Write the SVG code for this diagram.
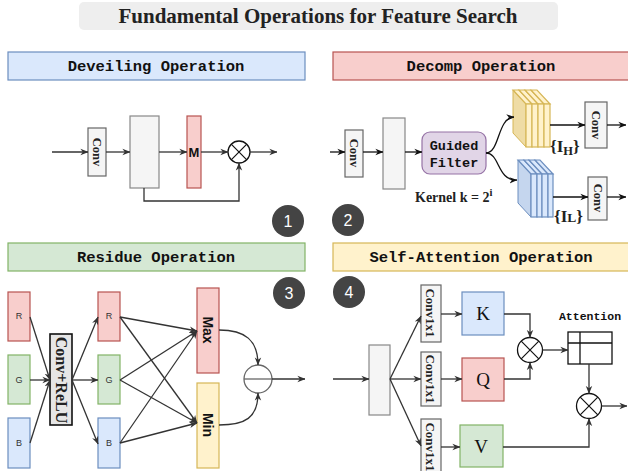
<svg xmlns="http://www.w3.org/2000/svg" width="628" height="471" viewBox="0 0 628 471">
<defs>
<style>
.hdr{font-family:"Liberation Mono",monospace;font-weight:bold;font-size:15.5px;fill:#111;text-anchor:middle}
.gray{fill:#f5f5f5;stroke:#888;stroke-width:1.2}
.conv{fill:#f5f5f5;stroke:#666;stroke-width:1.2}
.ser{font-family:"Liberation Serif",serif;font-weight:bold;fill:#222}
.sans{font-family:"Liberation Sans",Arial,sans-serif}
.red{fill:#f8cecc;stroke:#b85450;stroke-width:1.2}
.grn{fill:#d5e8d4;stroke:#82b366;stroke-width:1.2}
.blu{fill:#dae8fc;stroke:#6c8ebf;stroke-width:1.2}
.yel{fill:#fff2cc;stroke:#d6b656;stroke-width:1.2}
.ln{fill:none;stroke:#333;stroke-width:1.3}
.lnk{fill:none;stroke:#111;stroke-width:1.3}
.num{fill:#444}
.numt{font-family:"Liberation Sans",Arial,sans-serif;font-size:16px;fill:#fff;text-anchor:middle}
.op{fill:#fff;stroke:#111;stroke-width:1.3}
</style>
<marker id="ar" viewBox="0 0 10 10" refX="9.5" refY="5" markerWidth="8" markerHeight="8" markerUnits="userSpaceOnUse" orient="auto">
<path d="M0,1 L10,5 L0,9 L3,5 z" fill="#333"/>
</marker>
<marker id="ark" viewBox="0 0 10 10" refX="9.5" refY="5" markerWidth="8" markerHeight="8" markerUnits="userSpaceOnUse" orient="auto">
<path d="M0,1 L10,5 L0,9 L3,5 z" fill="#111"/>
</marker>
</defs>
<rect width="628" height="471" fill="#fff"/>

<g id="title">
<rect x="79" y="2" width="479" height="28" rx="5" fill="#eeeeee"/>
<text x="318" y="23" class="ser" font-size="21" text-anchor="middle" fill="#111">Fundamental Operations for Feature Search</text>
</g>

<g id="hdr-deveiling"><rect x="8" y="52" width="297" height="28" fill="#dae8fc" stroke="#6c8ebf" stroke-width="1.2"/><text x="156" y="71" class="hdr">Deveiling Operation</text></g>
<g id="hdr-decomp"><rect x="333" y="52" width="300" height="28" fill="#f8cecc" stroke="#b85450" stroke-width="1.2"/><text x="481" y="71" class="hdr">Decomp Operation</text></g>
<g id="hdr-residue"><rect x="8" y="243" width="297" height="28" fill="#d5e8d4" stroke="#82b366" stroke-width="1.2"/><text x="156" y="262" class="hdr">Residue Operation</text></g>
<g id="hdr-selfatt"><rect x="333" y="243" width="300" height="28" fill="#fff2cc" stroke="#d6b656" stroke-width="1.2"/><text x="481" y="262" class="hdr">Self-Attention Operation</text></g>

<g id="badges">
<circle cx="288" cy="221" r="16" class="num"/><text x="288" y="227" class="numt">1</text>
<circle cx="348" cy="220" r="16" class="num"/><text x="348" y="226" class="numt">2</text>
<circle cx="289" cy="293" r="16" class="num"/><text x="289" y="299" class="numt">3</text>
<circle cx="349" cy="292" r="16" class="num"/><text x="349" y="298" class="numt">4</text>
</g>

<!-- Deveiling -->
<g id="dv-conv"><rect x="88" y="128" width="18" height="48" class="conv"/><text transform="translate(93,152) rotate(90)" class="ser" font-size="12.5" text-anchor="middle">Conv</text></g>
<g id="dv-feat"><rect x="130" y="116" width="29" height="72" class="gray"/></g>
<g id="dv-m"><rect x="187" y="116" width="14" height="72" class="red"/><text x="194" y="157" class="sans" font-weight="bold" font-size="13" text-anchor="middle" fill="#111">M</text></g>
<g id="dv-mul"><circle cx="239" cy="152" r="11" class="op"/><path d="M231.2,144.2 L246.8,159.8 M246.8,144.2 L231.2,159.8" stroke="#111" stroke-width="1.2"/></g>

<!-- Decomp -->
<g id="dc-conv"><rect x="345" y="130" width="18" height="47" class="conv"/><text transform="translate(350,153) rotate(90)" class="ser" font-size="12.5" text-anchor="middle">Conv</text></g>
<g id="dc-feat"><rect x="383" y="118" width="22" height="71" class="gray"/></g>
<g id="dc-gf"><rect x="422" y="132" width="64" height="42" rx="8" fill="#e1d5e7" stroke="#9673a6" stroke-width="1.2"/>
<text x="454" y="150" font-family="Liberation Mono,monospace" font-weight="bold" font-size="13.5" text-anchor="middle" fill="#111">Guided</text>
<text x="454" y="167" font-family="Liberation Mono,monospace" font-weight="bold" font-size="13.5" text-anchor="middle" fill="#111">Filter</text></g>
<g id="dc-kernel"><text x="415" y="202" class="ser" font-size="14" fill="#111">Kernel k = 2<tspan dy="-6" font-size="10.5">i</tspan></text></g>
<g id="dc-ih">
<polygon points="526,104 513,90 513,133 526,147" fill="#efdca5" stroke="#d6b656" stroke-width="1"/>
<polygon points="526,104 513,90 519,90 532,104" class="yel" stroke-width="1"/>
<polygon points="532,104 519,90 525,90 538,104" class="yel" stroke-width="1"/>
<polygon points="538,104 525,90 531,90 544,104" class="yel" stroke-width="1"/>
<polygon points="544,104 531,90 537,90 550,104" class="yel" stroke-width="1"/>
<rect x="526" y="104" width="6" height="43" class="yel" stroke-width="1"/>
<rect x="532" y="104" width="6" height="43" class="yel" stroke-width="1"/>
<rect x="538" y="104" width="6" height="43" class="yel" stroke-width="1"/>
<rect x="544" y="104" width="6" height="43" class="yel" stroke-width="1"/>
<text x="550" y="152" class="ser" font-size="17" fill="#111">{I<tspan dy="3" font-size="12.5">H</tspan><tspan dy="-3">}</tspan></text>
</g>
<g id="dc-il">
<polygon points="531,174 518,160 518,203 531,217" fill="#c5d6ee" stroke="#6c8ebf" stroke-width="1"/>
<polygon points="531,174 518,160 524,160 537,174" class="blu" stroke-width="1"/>
<polygon points="537,174 524,160 529,160 542,174" class="blu" stroke-width="1"/>
<polygon points="542,174 529,160 535,160 548,174" class="blu" stroke-width="1"/>
<polygon points="548,174 535,160 540,160 553,174" class="blu" stroke-width="1"/>
<rect x="531" y="174" width="6" height="43" class="blu" stroke-width="1"/>
<rect x="537" y="174" width="5" height="43" class="blu" stroke-width="1"/>
<rect x="542" y="174" width="6" height="43" class="blu" stroke-width="1"/>
<rect x="548" y="174" width="5" height="43" class="blu" stroke-width="1"/>
<text x="554" y="222" class="ser" font-size="17" fill="#111">{I<tspan font-size="13.5">L</tspan>}</text>
</g>
<g id="dc-convh"><rect x="585" y="102" width="22" height="46" class="conv"/><text transform="translate(592,125) rotate(90)" class="ser" font-size="12.5" text-anchor="middle">Conv</text></g>
<g id="dc-convl"><rect x="588" y="177" width="19" height="43" class="conv"/><text transform="translate(594,198) rotate(90)" class="ser" font-size="12.5" text-anchor="middle">Conv</text></g>

<!-- Residue -->
<g id="rs-r1"><rect x="8" y="292" width="22" height="49" class="red"/><text x="19" y="319" class="sans" font-size="9" text-anchor="middle" fill="#333">R</text></g>
<g id="rs-g1"><rect x="8" y="355" width="22" height="49" class="grn"/><text x="19" y="383" class="sans" font-size="9" text-anchor="middle" fill="#333">G</text></g>
<g id="rs-b1"><rect x="8" y="418" width="22" height="50" class="blu"/><text x="19" y="446" class="sans" font-size="9" text-anchor="middle" fill="#333">B</text></g>
<g id="rs-conv"><rect x="50" y="334" width="22" height="91" fill="#e6e6e6" stroke="#111" stroke-width="1.6"/><text transform="translate(56,380) rotate(90)" class="ser" font-size="16" text-anchor="middle" fill="#111">Conv+ReLU</text></g>
<g id="rs-r2"><rect x="98" y="292" width="22" height="49" class="red"/><text x="109" y="319" class="sans" font-size="9" text-anchor="middle" fill="#333">R</text></g>
<g id="rs-g2"><rect x="98" y="355" width="22" height="49" class="grn"/><text x="109" y="383" class="sans" font-size="9" text-anchor="middle" fill="#333">G</text></g>
<g id="rs-b2"><rect x="98" y="418" width="22" height="50" class="blu"/><text x="109" y="446" class="sans" font-size="9" text-anchor="middle" fill="#333">B</text></g>
<g id="rs-max"><rect x="197" y="288" width="22" height="85" class="red"/><text transform="translate(203,330) rotate(90)" class="sans" font-weight="bold" font-size="14" text-anchor="middle" fill="#111">Max</text></g>
<g id="rs-min"><rect x="197" y="383" width="22" height="85" class="yel"/><text transform="translate(203,425) rotate(90)" class="sans" font-weight="bold" font-size="14" text-anchor="middle" fill="#111">Min</text></g>
<g id="rs-sub"><circle cx="258" cy="379" r="14" fill="#fff" stroke="#666" stroke-width="1.3"/><line x1="244" y1="379" x2="272" y2="379" stroke="#666" stroke-width="1.3"/></g>

<!-- Self-attention -->
<g id="sa-feat"><rect x="369" y="345" width="21" height="70" class="gray"/></g>
<g id="sa-ck"><rect x="421" y="285" width="20" height="57" class="conv"/><text transform="translate(426,313) rotate(90)" class="ser" font-size="13" text-anchor="middle">Conv1x1</text></g>
<g id="sa-cq"><rect x="421" y="352" width="20" height="54" class="conv"/><text transform="translate(426,379) rotate(90)" class="ser" font-size="13" text-anchor="middle">Conv1x1</text></g>
<g id="sa-cv"><rect x="421" y="419" width="20" height="58" class="conv"/><text transform="translate(426,447) rotate(90)" class="ser" font-size="13" text-anchor="middle">Conv1x1</text></g>
<g id="sa-k"><rect x="462" y="292" width="42" height="43" class="blu"/><text x="483" y="320" font-family="Liberation Serif,serif" font-size="19" text-anchor="middle" fill="#111">K</text></g>
<g id="sa-q"><rect x="462" y="358" width="42" height="43" class="red"/><text x="483" y="386" font-family="Liberation Serif,serif" font-size="19" text-anchor="middle" fill="#111">Q</text></g>
<g id="sa-v"><rect x="460" y="425" width="43" height="42" class="grn"/><text x="481" y="453" font-family="Liberation Serif,serif" font-size="19" text-anchor="middle" fill="#111">V</text></g>
<g id="sa-mul1"><circle cx="530" cy="350" r="12.5" class="op"/><path d="M521.2,341.2 L538.8,358.8 M538.8,341.2 L521.2,358.8" stroke="#111" stroke-width="1.2"/></g>
<g id="sa-att"><text x="590" y="320" font-family="Liberation Mono,monospace" font-weight="bold" font-size="11.5" text-anchor="middle" fill="#111">Attention</text>
<rect x="568" y="332" width="44" height="32" fill="#fff" stroke="#111" stroke-width="1.3"/><line x1="568" y1="343" x2="612" y2="343" stroke="#111" stroke-width="1.3"/><line x1="580" y1="332" x2="580" y2="364" stroke="#111" stroke-width="1.3"/></g>
<g id="sa-mul2"><circle cx="589" cy="406" r="12.5" class="op"/><path d="M580.2,397.2 L597.8,414.8 M597.8,397.2 L580.2,414.8" stroke="#111" stroke-width="1.2"/></g>

<g id="connectors">
<!-- deveiling -->
<path class="ln" marker-end="url(#ar)" d="M52,152 L88,152"/>
<path class="ln" marker-end="url(#ar)" d="M106,152 L130,152"/>
<path class="ln" marker-end="url(#ar)" d="M159,152 L187,152"/>
<path class="ln" marker-end="url(#ar)" d="M201,152 L228,152"/>
<path class="ln" marker-end="url(#ar)" d="M250,152 L277,152"/>
<path class="ln" marker-end="url(#ar)" d="M144,188 L144,201 L239,201 L239,163"/>
<!-- decomp -->
<path class="lnk" marker-end="url(#ark)" d="M330,152 L345,152"/>
<path class="lnk" marker-end="url(#ark)" d="M363,152 L383,152"/>
<path class="lnk" marker-end="url(#ark)" d="M405,152 L422,152"/>
<path class="lnk" marker-end="url(#ark)" d="M486,153 C500,153 497,118 514,117"/>
<path class="lnk" marker-end="url(#ark)" d="M486,153 C500,153 497,181 517,180"/>
<path class="lnk" marker-end="url(#ark)" d="M550,125 L585,125"/>
<path class="lnk" marker-end="url(#ark)" d="M607,125 L626,125"/>
<path class="lnk" marker-end="url(#ark)" d="M553,197 L588,197"/>
<path class="lnk" marker-end="url(#ark)" d="M607,197 L626,197"/>
<!-- residue -->
<path class="ln" marker-end="url(#ar)" d="M30,317 L50,380"/>
<path class="ln" marker-end="url(#ar)" d="M30,380 L50,380"/>
<path class="ln" marker-end="url(#ar)" d="M30,443 L50,380"/>
<path class="ln" marker-end="url(#ar)" d="M72,380 L98,317"/>
<path class="ln" marker-end="url(#ar)" d="M72,380 L98,380"/>
<path class="ln" marker-end="url(#ar)" d="M72,380 L98,444"/>
<path class="ln" marker-end="url(#ar)" d="M120,317 L197,331"/>
<path class="ln" marker-end="url(#ar)" d="M120,317 L197,423"/>
<path class="ln" marker-end="url(#ar)" d="M120,380 L197,331"/>
<path class="ln" marker-end="url(#ar)" d="M120,380 L197,423"/>
<path class="ln" marker-end="url(#ar)" d="M120,443 L197,331"/>
<path class="ln" marker-end="url(#ar)" d="M120,443 L197,423"/>
<path class="ln" marker-end="url(#ar)" d="M219,330 C245,330 258,340 258,365"/>
<path class="ln" marker-end="url(#ar)" d="M219,425 C245,425 258,418 258,393"/>
<path class="ln" marker-end="url(#ar)" d="M272,379 L305,379"/>
<!-- self-attention -->
<path class="ln" marker-end="url(#ar)" d="M333,379 L369,379"/>
<path class="ln" marker-end="url(#ar)" d="M390,379 L421,316"/>
<path class="ln" marker-end="url(#ar)" d="M390,379 L421,379"/>
<path class="ln" marker-end="url(#ar)" d="M390,379 L421,446"/>
<path class="ln" marker-end="url(#ar)" d="M441,314 L462,314"/>
<path class="ln" marker-end="url(#ar)" d="M441,379 L462,379"/>
<path class="ln" marker-end="url(#ar)" d="M441,447 L460,447"/>
<path class="ln" marker-end="url(#ar)" d="M504,314 L530,314 L530,337.5"/>
<path class="ln" marker-end="url(#ar)" d="M504,379 L530,379 L530,362.5"/>
<path class="ln" marker-end="url(#ar)" d="M542.5,350 L568,350"/>
<path class="ln" marker-end="url(#ar)" d="M589,364 L589,393.5"/>
<path class="ln" marker-end="url(#ar)" d="M503,447 L589,447 L589,418.5"/>
<path class="ln" marker-end="url(#ar)" d="M601.5,406 L627,406"/>
</g>
</svg>
